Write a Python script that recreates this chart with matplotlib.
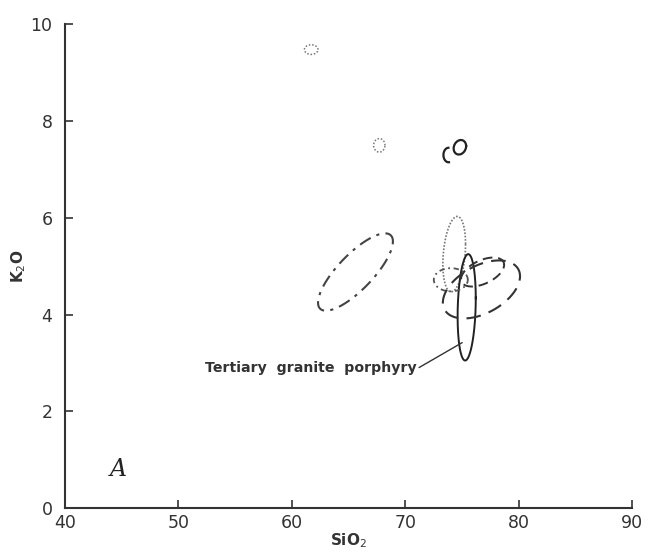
import numpy as np
import matplotlib.pyplot as plt
import matplotlib as mpl
mpl.rcParams.update({'font.family': 'DejaVu Sans'})

# outlines of the compositional fields: x = cx + rx*cos(t), y = cy + ry*cos(t - phi)
cx  = [61.7, 67.7, 74.8, 73.8, 65.6, 74.3, 75.4, 74.0, 76.8, 76.7]
cy  = [9.48, 7.50, 7.46, 7.30, 4.88, 5.25, 4.15, 4.72, 4.88, 4.52]
rx  = [0.60, 0.50, 0.55, 0.45, 3.30, 1.00, 0.80, 1.50, 1.90, 3.40]
ry  = [0.10, 0.14, 0.15, 0.15, 0.80, 0.78, 1.10, 0.24, 0.30, 0.60]
phi = [1.57, 1.57, 1.40, 1.57, 0.66, 1.30, 1.40, 1.57, 1.05, 1.10]
t0  = [0.0, 0.0, 0.0, 1.6, 0.0, 0.0, 0.0, 0.0, 0.0, 0.0]
t1  = [6.3, 6.3, 6.3, 4.8, 6.3, 6.3, 6.3, 6.3, 6.3, 6.3]
styles = [(0, (1, 1.2)), (0, (1, 1.2)), '-', '-', (0, (6, 3, 1.5, 3)),
          (0, (1, 1)), '-', (0, (3, 2, 1, 2)), (0, (5, 3)), (0, (7, 4))]
colors = ['#777777', '#777777', '#222222', '#222222', '#444444',
          '#777777', '#222222', '#555555', '#333333', '#333333']
widths = [1.1, 1.1, 1.6, 1.6, 1.5, 1.2, 1.4, 1.3, 1.4, 1.5]

label = 'Tertiary  granite  porphyry'
label_xy = (52.3, 2.9)
arrow_xy = (75.0, 3.42)

fig = plt.figure(figsize=(6.56, 5.52), dpi=100)
ax = fig.add_axes([0.099, 0.0797, 0.865, 0.876])
ax.set_xlim(40, 90); ax.set_ylim(0, 10)

for i in range(len(cx)):
    t = np.linspace(t0[i], t1[i], 200)
    ax.plot(cx[i] + rx[i]*np.cos(t), cy[i] + ry[i]*np.cos(t - phi[i]),
            ls=styles[i], color=colors[i], lw=widths[i])

ax.annotate(label, xy=arrow_xy, xytext=label_xy, fontsize=10.2, fontweight='bold',
            color='#333333', va='center', ha='left',
            arrowprops=dict(arrowstyle='-', color='#333333', lw=1, shrinkA=0, shrinkB=0,
                            relpos=(1, 0.4)))
ax.text(44.7, 0.8, 'A', fontsize=17, family='DejaVu Serif', style='italic',
        color='#222222', ha='center', va='center')

for s in ['top', 'right']:
    ax.spines[s].set_visible(False)
for s in ['left', 'bottom']:
    ax.spines[s].set_linewidth(1.5); ax.spines[s].set_color('#333333')
ax.set_xticks(range(40, 91, 10)); ax.set_yticks(range(0, 11, 2))
ax.tick_params(direction='in', length=6, width=1.2, color='#333333',
               labelsize=12.5, labelcolor='#333333')
ax.tick_params(axis='y', pad=9)
ax.tick_params(axis='x', pad=4)
ax.set_xlabel('SiO$_2$', fontsize=11, fontweight='bold', color='#333333', labelpad=0)
ax.set_ylabel('K$_2$O', fontsize=11, fontweight='bold', color='#333333', labelpad=2)

fig.savefig('out.png', dpi=100, facecolor='white')
